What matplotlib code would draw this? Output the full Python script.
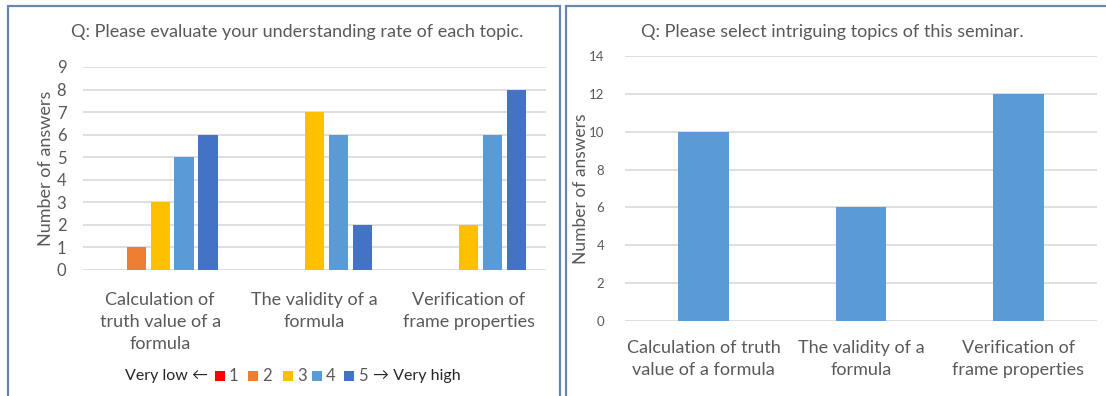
import matplotlib
matplotlib.use("Agg")
import matplotlib.pyplot as plt
import matplotlib.patches as mpatches
import numpy as np

plt.rcParams['font.family'] = ['Lato', 'DejaVu Sans']

# Understanding survey: counts per topic for each rating level
topics_left = ["Calculation of\ntruth value of a\nformula", "The validity of a\nformula",
               "Verification of\nframe properties"]
rating_labels = ["1", "2", "3", "4", "5"]
rating_1 = [0, 0, 0]
rating_2 = [1, 0, 0]
rating_3 = [3, 7, 2]
rating_4 = [5, 6, 6]
rating_5 = [6, 2, 8]
rating_colors = ["#FF0000", "#ED7D31", "#FFC000", "#5B9BD5", "#4472C4"]

# Intriguing topics survey
topics_right = ["Calculation of truth\nvalue of a formula", "The validity of a\nformula",
                "Verification of\nframe properties"]
interest_counts = [10, 6, 12]

W, H = 1106, 396
fig = plt.figure(figsize=(W / 100, H / 100), dpi=100)
fig.patch.set_facecolor("white")

text_color = "#595959"
grid_color = "#D9D9D9"
frame_color = "#6A86AD"


def fx(px):
    return px / W


def fy(py):
    return 1 - py / H


# Panel frames
def px_rect(x0, y0, x1, y1):
    return mpatches.Rectangle((fx(x0), fy(y1)), (x1 - x0) / W, (y1 - y0) / H,
                              transform=fig.transFigure, fill=False,
                              edgecolor=frame_color, linewidth=1.6, clip_on=False)


fig.patches.append(px_rect(7.5, 5.5, 559.5, 400))
fig.patches.append(px_rect(565.5, 5.5, 1110, 400))


def style_axes(ax):
    for s in ax.spines.values():
        s.set_visible(False)
    ax.yaxis.grid(True, color=grid_color, linewidth=1.2)
    ax.set_axisbelow(True)
    ax.tick_params(axis='both', length=0, colors=text_color)


# Left chart
axL = fig.add_axes([fx(83), fy(270), 463 / W, 203 / H])
style_axes(axL)
x = np.arange(len(topics_left))
series = [rating_1, rating_2, rating_3, rating_4, rating_5]
bw = 0.125
step = 0.155
for i, (vals, col, lab) in enumerate(zip(series, rating_colors, rating_labels)):
    axL.bar(x + (i - 2) * step, vals, width=bw, color=col, label=lab, zorder=3)
axL.set_xlim(-0.5, 2.5)
axL.set_ylim(0, 9)
axL.set_yticks(range(0, 10))
axL.set_xticks(x)
axL.set_xticklabels(topics_left, fontsize=13, color=text_color, linespacing=1.45)
axL.tick_params(axis='x', pad=16)
axL.tick_params(axis='y', labelsize=12, pad=12)
axL.set_ylabel("Number of answers", fontsize=13, color=text_color)
axL.yaxis.set_label_coords((54 - 83) / 463, 0.5)
fig.text(fx(297), fy(32), "Q: Please evaluate your understanding rate of each topic.",
         ha='center', va='center', fontsize=13, color=text_color)

# Legend row: rating swatches between the two scale ends
leg_y = 376
fig.text(fx(125), fy(leg_y), "Very low \u2190", ha='left', va='center', fontsize=11.5, color="#262626")
swatch_x = [215, 248, 283, 312, 344]
for sx, col, lab in zip(swatch_x, rating_colors, rating_labels):
    fig.patches.append(mpatches.Rectangle((fx(sx), fy(leg_y + 5)), 10 / W, 10 / H,
                                          transform=fig.transFigure, facecolor=col,
                                          edgecolor='none'))
    fig.text(fx(sx + 14), fy(leg_y), lab, ha='left', va='center', fontsize=12, color=text_color)
fig.text(fx(373), fy(leg_y), "\u2192 Very high", ha='left', va='center', fontsize=11.5, color="#262626")

# Right chart
axR = fig.add_axes([fx(625), fy(321), 472 / W, 265 / H])
style_axes(axR)
xr = np.arange(len(topics_right))
axR.bar(xr, interest_counts, width=0.32, color="#5B9BD5", zorder=3)
axR.set_xlim(-0.5, 2.5)
axR.set_ylim(0, 14)
axR.set_yticks(range(0, 15, 2))
axR.set_xticks(xr)
axR.set_xticklabels(topics_right, fontsize=13, color=text_color, linespacing=1.4)
axR.tick_params(axis='x', pad=14)
axR.tick_params(axis='y', labelsize=9.5, pad=15)
axR.set_ylabel("Number of answers", fontsize=12.5, color=text_color)
axR.yaxis.set_label_coords((589 - 625) / 472, 0.5)
fig.text(fx(832), fy(32), "Q: Please select intriguing topics of this seminar.",
         ha='center', va='center', fontsize=13, color=text_color)

fig.savefig("out.png", dpi=100, facecolor="white")
